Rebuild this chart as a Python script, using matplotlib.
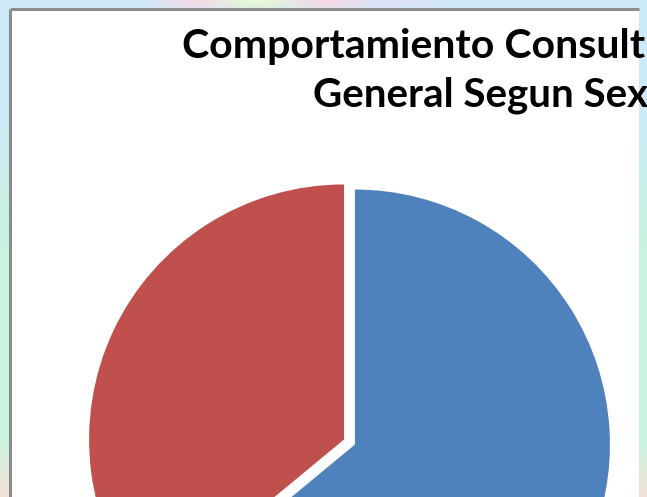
import numpy as np
import matplotlib
matplotlib.use("Agg")
import matplotlib.pyplot as plt
from matplotlib.patches import Rectangle

# Data
title_line1 = "Comportamiento Consult"
title_line2 = "General Segun Sex"
categories = ["Femenino", "Masculino"]
values = [64, 36]
colors = ["#4F81BD", "#C0504D"]

W, H = 647, 497
fig = plt.figure(figsize=(W / 100, H / 100), dpi=100)

# Background pastel gradient
bg = fig.add_axes([0, 0, 1, 1])
bg.set_axis_off()
yy, xx = np.mgrid[0:H, 0:W]
blue = np.array([205, 234, 250]) / 255
mint = np.array([200, 243, 222]) / 255
peach = np.array([245, 225, 215]) / 255
t = np.clip((yy - 100) / 150, 0, 1)[..., None]
img = blue * (1 - t) + mint * t
t2 = np.clip((yy - 440) / 57, 0, 1)[..., None]
img = img * (1 - t2) + peach * t2
def blob(cx, cy, sx, sy, col, a):
    g = np.exp(-(((xx - cx) / sx) ** 2 + ((yy - cy) / sy) ** 2))[..., None] * a
    return g, np.array(col) / 255
for cx, col in [(200, (250, 215, 228)), (260, (235, 250, 210)), (330, (250, 215, 225)), (400, (225, 225, 250))]:
    g, c = blob(cx, 0, 40, 10, col, 0.9)
    img = img * (1 - g) + c * g
bg.imshow(img, extent=[0, W, 0, H], origin="upper", aspect="auto")
bg.set_xlim(0, W)
bg.set_ylim(0, H)

# Chart area (pixel coordinates, y up)
ax = fig.add_axes([0, 0, 1, 1])
ax.set_xlim(0, W)
ax.set_ylim(0, H)
ax.set_axis_off()
ax.patch.set_alpha(0)

left, top, right = 10, 9, 639
area = Rectangle((left, 0), right - left, H - top, facecolor="white", edgecolor="none", zorder=0)
ax.add_patch(area)
ax.plot([left, left], [0, H - top], color="#8c8c8c", lw=2.2, zorder=5, solid_capstyle="butt")
ax.plot([left, right], [H - top, H - top], color="#8c8c8c", lw=2.2, zorder=5, solid_capstyle="butt")

# Pie
cx, cy = 349.5, H - 442
wedges, _ = ax.pie(values, colors=colors, startangle=90, counterclock=False,
                   radius=255, center=(cx, cy), explode=[6, 6],
                   wedgeprops=dict(edgecolor="white", linewidth=0),
                   frame=True)
ax.set_xlim(0, W)
ax.set_ylim(0, H)
ax.set_aspect("auto")
ax.set_axis_off()
for w in wedges:
    w.set_clip_path(area)

# Title
for txt, x0, ybase, fs in [(title_line1, 182, H - 58, 29.5), (title_line2, 313, H - 106, 29.0)]:
    ax.text(x0, ybase, txt, fontsize=fs, fontweight="bold", family="Lato",
            ha="left", va="baseline", color="black", zorder=6)

fig.savefig("out.png", dpi=100)
